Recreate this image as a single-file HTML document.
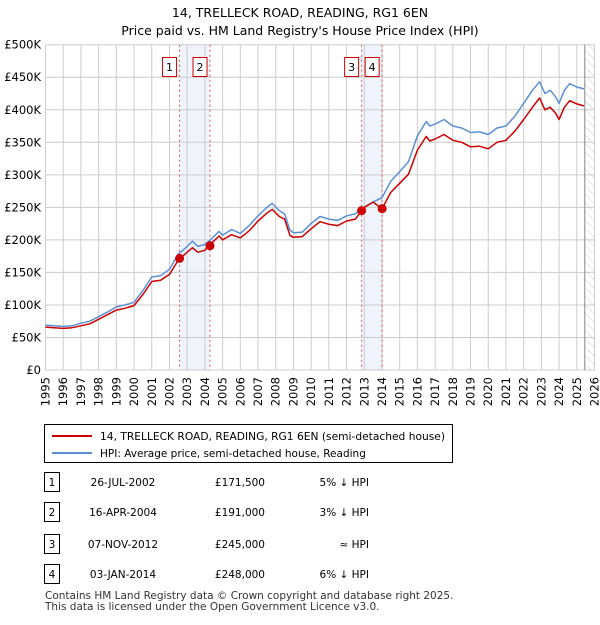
<!DOCTYPE html>
<html><head><meta charset="utf-8"><style>
body{margin:0;background:#fff;font-family:"Liberation Sans","DejaVu Sans",sans-serif;}
svg text{font-family:"DejaVu Sans","Liberation Sans",sans-serif;}
</style></head><body>
<svg id="c" width="600" height="620" xmlns="http://www.w3.org/2000/svg">
<text x="300" y="17" text-anchor="middle" font-size="12.5">14, TRELLECK ROAD, READING, RG1 6EN</text>
<text x="300" y="35" text-anchor="middle" font-size="12.5">Price paid vs. HM Land Registry's House Price Index (HPI)</text>
<g id="plot"></g>
<g>
<rect x="44.5" y="424.5" width="408" height="38" fill="#fff" stroke="#000"/>
<line x1="52" y1="436" x2="92" y2="436" stroke="#cc0000" stroke-width="2"/>
<text x="100" y="440" font-size="10.5" textLength="345" lengthAdjust="spacingAndGlyphs">14, TRELLECK ROAD, READING, RG1 6EN (semi-detached house)</text>
<line x1="52" y1="453" x2="92" y2="453" stroke="#5b8fd4" stroke-width="2"/>
<text x="100" y="457" font-size="10.5">HPI: Average price, semi-detached house, Reading</text>
</g>
<g id="tbl" font-size="10.5"></g>
<text x="45" y="599" font-size="10.5" fill="#333">Contains HM Land Registry data © Crown copyright and database right 2025.</text>
<text x="45" y="610" font-size="10.5" fill="#333">This data is licensed under the Open Government Licence v3.0.</text>
</svg>
<script>
const years=[1995,1996,1996.5,1997,1997.5,1998,1998.5,1999,1999.5,2000,2000.5,2001,2001.5,2002,2002.5,2003,2003.3,2003.6,2004,2004.3,2004.8,2005,2005.5,2006,2006.5,2007,2007.5,2007.8,2008.2,2008.5,2008.8,2009,2009.5,2010,2010.5,2011,2011.5,2012,2012.5,2013,2013.5,2014,2014.5,2015,2015.5,2016,2016.5,2016.7,2017,2017.5,2018,2018.5,2019,2019.5,2020,2020.5,2021,2021.5,2022,2022.5,2022.9,2023.2,2023.5,2023.8,2024,2024.3,2024.6,2025,2025.4];
const hpi=[69,67,68,72,75,82,89,97,100,104,122,143,145,155,178,190,198,190,193,200,213,207,216,210,222,237,250,256,245,240,215,211,212,225,236,232,230,237,240,250,258,265,290,305,320,360,382,375,378,385,375,372,365,366,362,372,375,390,410,430,443,425,430,420,410,430,440,435,432];
const red=[66,64,65,68,71,78,85,92,95,99,116,136,138,147,169,181,188,181,184,193,206,200,208,203,214,229,241,247,236,232,207,204,205,217,228,224,222,229,232,250,258,248,273,287,301,338,359,352,355,362,353,350,343,344,340,350,353,367,385,404,418,400,404,395,385,404,414,409,406];
const saleYears=[2002.57,2004.29,2012.85,2014.01];
const salePrices=[171.5,191,245,248];
const saleDates=["26-JUL-2002","16-APR-2004","07-NOV-2012","03-JAN-2014"];
const saleLabels=["£171,500","£191,000","£245,000","£248,000"];
const saleHpi=["5% ↓ HPI","3% ↓ HPI","≈ HPI","6% ↓ HPI"];
const yTicks=[0,50,100,150,200,250,300,350,400,450,500];
const yTickLabels=["£0","£50K","£100K","£150K","£200K","£250K","£300K","£350K","£400K","£450K","£500K"];
const NS="http://www.w3.org/2000/svg";
const X0=45.5,X1=594.5,Y0=370,Y1=44.7;
const xs=y=>X0+(y-1995)/(2026-1995)*(X1-X0);
const ys=v=>Y0-v/500*(Y0-Y1);
const plot=document.getElementById('plot');
function mk(tag,at,par){const e=document.createElementNS(NS,tag);for(const k in at)e.setAttribute(k,at[k]);(par||plot).appendChild(e);return e;}
for(let i=0;i<4;i+=2){const b=mk('rect',{x:xs(saleYears[i]),y:Y1,width:xs(saleYears[i+1])-xs(saleYears[i]),height:Y0-Y1,fill:'#eef3fc'});

}
const d=mk('defs',{});const p=mk('pattern',{id:'h',width:6,height:6,patternUnits:'userSpaceOnUse',patternTransform:'rotate(-45)'},d);mk('line',{x1:0,y1:0,x2:0,y2:6,stroke:'#ccc','stroke-width':1},p);
const hz=mk('rect',{x:xs(2025.45),y:Y1,width:X1-xs(2025.45),height:Y0-Y1,fill:'url(#h)'});


for(let yr=1995;yr<=2026;yr++){const l=mk('line',{x1:xs(yr),x2:xs(yr),y1:Y1,y2:Y0,stroke:'#ccc'});


const t=mk('text',{transform:`translate(${xs(yr)+4},377) rotate(-90)`,'text-anchor':'end','font-size':'11.5'});t.textContent=yr;

}
yTicks.forEach((v,i)=>{const l=mk('line',{x1:X0,x2:X1,y1:ys(v),y2:ys(v),stroke:'#ccc'});


const t=mk('text',{x:41,y:ys(v)+4,'text-anchor':'end','font-size':'11.5'});t.textContent=yTickLabels[i];

});
const ed=mk('line',{x1:xs(2025.45),x2:xs(2025.45),y1:Y1,y2:Y0,stroke:'#888'});


saleYears.forEach((s,i)=>{const l=mk('line',{x1:xs(s),x2:xs(s),y1:Y1,y2:Y0,stroke:'#e05555','stroke-dasharray':'2,3'});


const bx=mk('rect',{x:xs(s)-17,y:57.5,width:14,height:19,fill:'#fff',stroke:'#cc0000'});


const t=mk('text',{x:xs(s)-10,y:71,'text-anchor':'middle','font-size':'11'});t.textContent=i+1;

});
function line(arr,col,name){const dd=arr.map((v,i)=>(i?'L':'M')+xs(years[i]).toFixed(1)+','+ys(v).toFixed(1)).join('');
const e=mk('path',{d:dd,fill:'none',stroke:col,'stroke-width':1.5,'stroke-linejoin':'round'});

}
line(hpi,'#5b8fd4','hpi-line');line(red,'#cc0000','price-paid-line');
saleYears.forEach((s,i)=>{const c=mk('circle',{cx:xs(s),cy:ys(salePrices[i]),r:4.5,fill:'#cc0000'});

});
const tb=document.getElementById('tbl');const rowY=[483,513,545,575];
saleDates.forEach((dt,i)=>{const y=rowY[i];
const r=mk('rect',{x:44.5,y:y-10.5,width:15,height:19,fill:'#fff',stroke:'#000'},tb);


const n=mk('text',{x:52,y:y+3,'text-anchor':'middle'},tb);n.textContent=i+1;


const a=mk('text',{x:123,y:y+3,'text-anchor':'middle'},tb);a.textContent=dt;


const b=mk('text',{x:265,y:y+3,'text-anchor':'end'},tb);b.textContent=saleLabels[i];


const c=mk('text',{x:369,y:y+3,'text-anchor':'end'},tb);c.textContent=saleHpi[i];

});
</script>
</body></html>
